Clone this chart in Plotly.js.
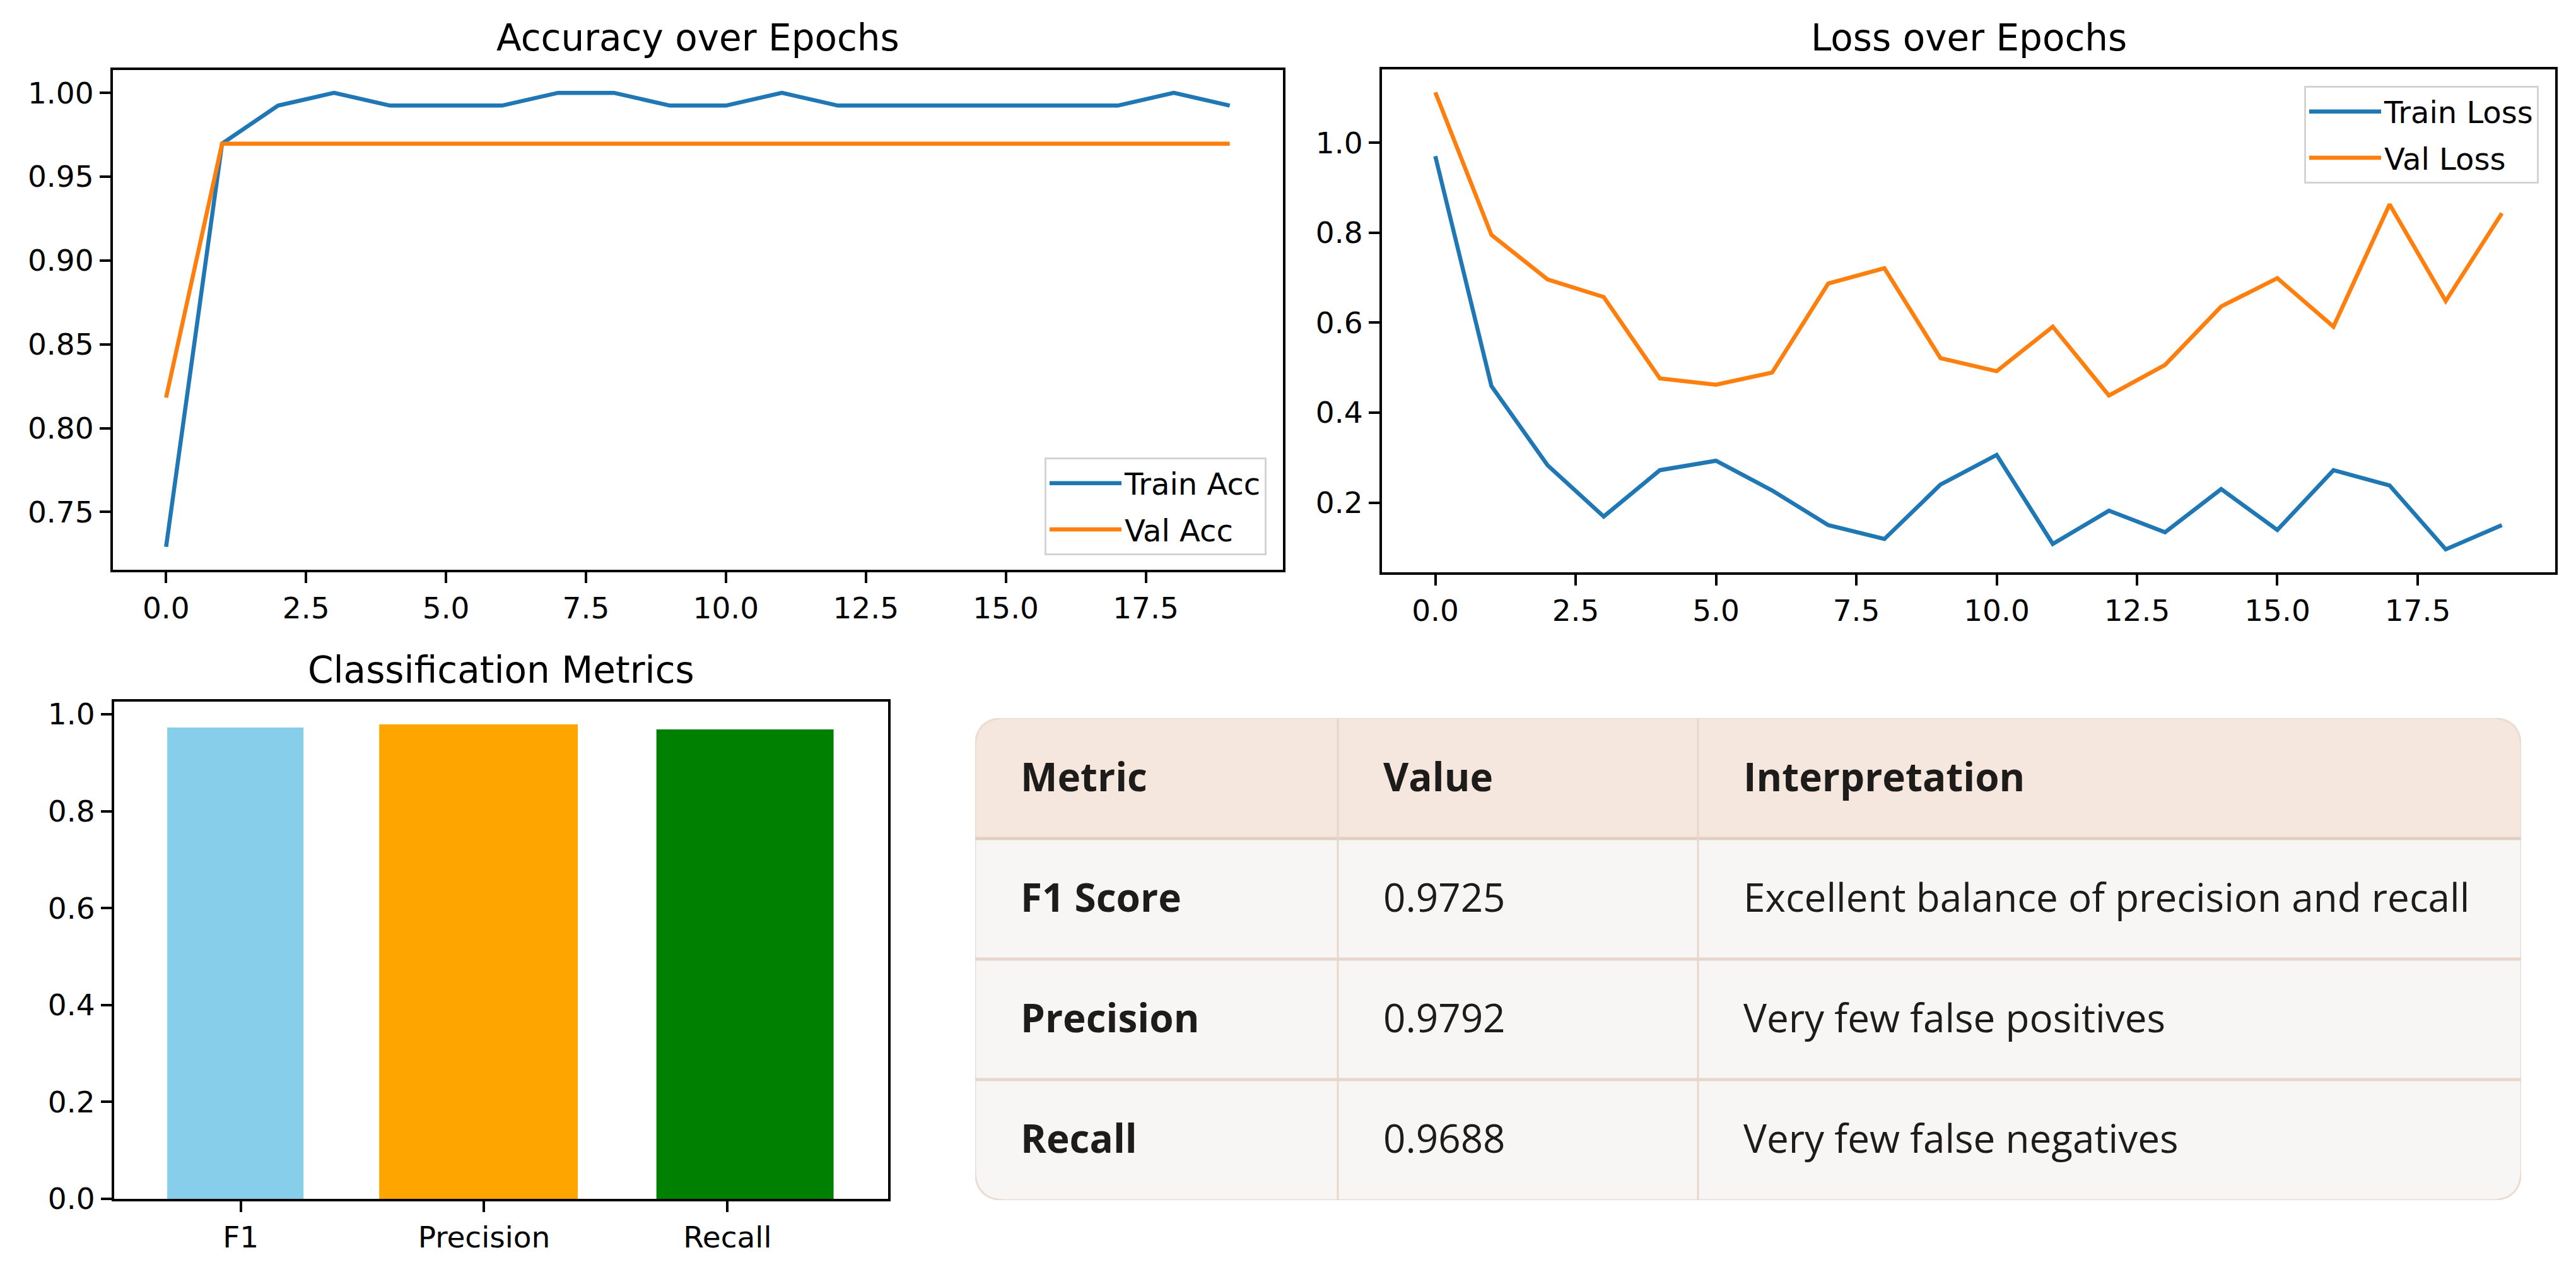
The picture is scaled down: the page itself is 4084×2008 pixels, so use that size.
<!DOCTYPE html>
<html>
<head>
<meta charset="utf-8">
<script src="https://cdn.plot.ly/plotly-3.0.1.min.js"></script>
<style>html,body{margin:0;padding:0;background:#fff;} #chart{width:4084px;height:2008px;}</style>
</head>
<body>
<div id="chart"></div>
<script>
// ---------------- DATA ----------------
const epochs = [0, 1, 2, 3, 4, 5, 6, 7, 8, 9, 10, 11, 12, 13, 14, 15, 16, 17, 18, 19];
const trainAcc = [0.7292, 0.9697, 0.9924, 1.0, 0.9924, 0.9924, 0.9924, 1.0, 1.0, 0.9924, 0.9924, 1.0, 0.9924, 0.9924, 0.9924, 0.9924, 0.9924, 0.9924, 1.0, 0.9924];
const valAcc = [0.8182, 0.9697, 0.9697, 0.9697, 0.9697, 0.9697, 0.9697, 0.9697, 0.9697, 0.9697, 0.9697, 0.9697, 0.9697, 0.9697, 0.9697, 0.9697, 0.9697, 0.9697, 0.9697, 0.9697];
const trainLoss = [0.970, 0.459, 0.283, 0.169, 0.272, 0.293, 0.227, 0.150, 0.119, 0.240, 0.306, 0.108, 0.182, 0.134, 0.230, 0.139, 0.272, 0.238, 0.096, 0.150];
const valLoss = [1.112, 0.795, 0.696, 0.657, 0.476, 0.462, 0.489, 0.687, 0.721, 0.521, 0.492, 0.591, 0.438, 0.506, 0.636, 0.699, 0.591, 0.863, 0.648, 0.843];
const metricNames = ['F1', 'Precision', 'Recall'];
const metricValues = [0.9725, 0.9792, 0.9688];
const tableHeader = ['Metric', 'Value', 'Interpretation'];
const tableMetric = ['F1 Score', 'Precision', 'Recall'];
const tableValue = ['0.9725', '0.9792', '0.9688'];
const tableInterp = ['Excellent balance of precision and recall', 'Very few false positives', 'Very few false negatives'];

// ---------------- STYLE ----------------
const W = 4084, H = 2008;
const FONT = 'DejaVu Sans';
const TFONT = 'Open Sans';
const barColors = ['#87CEEB', '#FFA500', '#008000'];
const barWidths = [0.56, 0.816, 0.728];
const barOffsets = [-0.302, -0.431, -0.292];
const colWidths = [575, 571, 1305];
const tableW = colWidths.reduce((a, b) => a + b, 0);
const nRows = tableMetric.length + 1;
const cornerR = 48, rowPx = 191;

function px(x) { return x / W; }
function py(y) { return 1 - y / H; }

const axisCommon = {
  showline: true, mirror: true, linecolor: '#000', linewidth: 4,
  ticks: 'outside', ticklen: 17, tickwidth: 4, tickcolor: '#000',
  tickfont: {family: FONT, size: 47, color: '#000'},
  showgrid: false, zeroline: false
};

const lineW = 6.5;
const traces = [
  {x: epochs, y: trainAcc, type: 'scatter', mode: 'lines', name: 'Train Acc', line: {color: '#1f77b4', width: lineW}, xaxis: 'x', yaxis: 'y', legend: 'legend', legendgroup: 'a1'},
  {x: epochs, y: valAcc, type: 'scatter', mode: 'lines', name: 'Val Acc', line: {color: '#ff7f0e', width: lineW}, xaxis: 'x', yaxis: 'y', legend: 'legend', legendgroup: 'a2'},
  {x: epochs, y: trainLoss, type: 'scatter', mode: 'lines', name: 'Train Loss', line: {color: '#1f77b4', width: lineW}, xaxis: 'x2', yaxis: 'y2', legend: 'legend2', legendgroup: 'b1'},
  {x: epochs, y: valLoss, type: 'scatter', mode: 'lines', name: 'Val Loss', line: {color: '#ff7f0e', width: lineW}, xaxis: 'x2', yaxis: 'y2', legend: 'legend2', legendgroup: 'b2'},
  {x: metricNames, y: metricValues, type: 'bar', marker: {color: barColors, line: {width: 0}}, width: barWidths, offset: barOffsets, xaxis: 'x3', yaxis: 'y3', showlegend: false, hoverinfo: 'skip'},
  {x: [0, tableW], y: [0, nRows], type: 'scatter', mode: 'markers', marker: {opacity: 0}, xaxis: 'x4', yaxis: 'y4', showlegend: false, hoverinfo: 'skip'}
];

// table shapes (in table-axis units: x = pixels across the table, y = rows)
const ry = cornerR / rowPx;
const shapes = [];
const outerPath = `M ${cornerR},0 L ${tableW - cornerR},0 Q ${tableW},0 ${tableW},${ry} L ${tableW},${nRows - ry} Q ${tableW},${nRows} ${tableW - cornerR},${nRows} L ${cornerR},${nRows} Q 0,${nRows} 0,${nRows - ry} L 0,${ry} Q 0,0 ${cornerR},0 Z`;
shapes.push({type: 'path', xref: 'x4', yref: 'y4', path: outerPath, fillcolor: '#F8F6F4', line: {color: '#EBDDD3', width: 3}, layer: 'above'});
const headPath = `M ${cornerR},0 L ${tableW - cornerR},0 Q ${tableW},0 ${tableW},${ry} L ${tableW},1 L 0,1 L 0,${ry} Q 0,0 ${cornerR},0 Z`;
shapes.push({type: 'path', xref: 'x4', yref: 'y4', path: headPath, fillcolor: '#F5E7DD', line: {color: '#EBDDD3', width: 3}, layer: 'above'});
for (let r = 1; r < nRows; r++) {
  shapes.push({type: 'line', xref: 'x4', yref: 'y4', x0: 0, x1: tableW, y0: r, y1: r, line: {color: r === 1 ? '#E2CFC2' : '#E6D6CB', width: 5}, layer: 'above'});
}
let acc = 0;
const colStarts = [];
for (let c = 0; c < colWidths.length; c++) {
  colStarts.push(acc);
  acc += colWidths[c];
  if (c < colWidths.length - 1) {
    shapes.push({type: 'line', xref: 'x4', yref: 'y4', x0: acc, x1: acc, y0: 0, y1: nRows, line: {color: '#E6D6CB', width: 3}, layer: 'above'});
  }
}

const annotations = [];
function title(text, x0, x1, yc) {
  annotations.push({text: text, xref: 'paper', yref: 'paper', x: px((x0 + x1) / 2), y: py(yc), xanchor: 'center', yanchor: 'middle', showarrow: false, font: {family: FONT, size: 58, color: '#000'}});
}
title('Accuracy over Epochs', 179, 2034, 60);
title('Loss over Epochs', 2191, 4051, 60);
title('Classification Metrics', 181, 1408, 1062);

const cellPad = 70;
function cell(text, c, r, bold) {
  annotations.push({text: bold ? '<b>' + text + '</b>' : text, xref: 'x4', yref: 'y4', x: colStarts[c], xshift: cellPad, y: r + 0.5, yshift: 4, xanchor: 'left', yanchor: 'middle', showarrow: false, font: {family: TFONT, size: 62, color: '#1E1C1B'}});
}
tableHeader.forEach((t, c) => cell(t, c, 0, true));
tableMetric.forEach((t, i) => cell(t, 0, i + 1, true));
tableValue.forEach((t, i) => cell(t, 1, i + 1, false));
tableInterp.forEach((t, i) => cell(t, 2, i + 1, false));

const legendCommon = {
  bgcolor: 'rgba(255,255,255,0.85)', bordercolor: '#d4d4d4', borderwidth: 3,
  font: {family: FONT, size: 48, color: '#000'}, itemwidth: 114, tracegroupgap: 8
};

const layout = {
  width: W, height: H,
  margin: {l: 0, r: 0, t: 0, b: 0, pad: 0},
  paper_bgcolor: '#fff', plot_bgcolor: '#fff',
  showlegend: true,
  xaxis: Object.assign({}, axisCommon, {domain: [px(179), px(2034)], range: [-0.95, 19.95], tick0: 0, dtick: 2.5, tickformat: '.1f', anchor: 'y'}),
  yaxis: Object.assign({}, axisCommon, {domain: [py(903), py(111)], range: [0.7155, 1.0136], tick0: 0, dtick: 0.05, tickformat: '.2f', anchor: 'x'}),
  xaxis2: Object.assign({}, axisCommon, {domain: [px(2191), px(4051)], range: [-0.95, 19.95], tick0: 0, dtick: 2.5, tickformat: '.1f', anchor: 'y2'}),
  yaxis2: Object.assign({}, axisCommon, {domain: [py(907), py(110)], range: [0.045, 1.163], tick0: 0, dtick: 0.2, tickformat: '.1f', anchor: 'x2'}),
  xaxis3: Object.assign({}, axisCommon, {domain: [px(181), px(1408)], range: [-0.52, 2.66], type: 'category', anchor: 'y3'}),
  yaxis3: Object.assign({}, axisCommon, {domain: [py(1900), py(1112)], range: [0, 1.026], tick0: 0, dtick: 0.2, tickformat: '.1f', anchor: 'x3'}),
  xaxis4: {domain: [px(1546), px(1546 + tableW)], range: [0, tableW], visible: false, fixedrange: true, anchor: 'y4'},
  yaxis4: {domain: [py(1902), py(1138)], range: [nRows, 0], visible: false, fixedrange: true, anchor: 'x4'},
  legend: Object.assign({}, legendCommon, {x: px(2008), xanchor: 'right', y: py(880), yanchor: 'bottom'}),
  legend2: Object.assign({}, legendCommon, {x: px(4025), xanchor: 'right', y: py(136), yanchor: 'top'}),
  shapes: shapes,
  annotations: annotations
};

Plotly.newPlot('chart', traces, layout, {staticPlot: true, displayModeBar: false});
</script>
</body>
</html>
